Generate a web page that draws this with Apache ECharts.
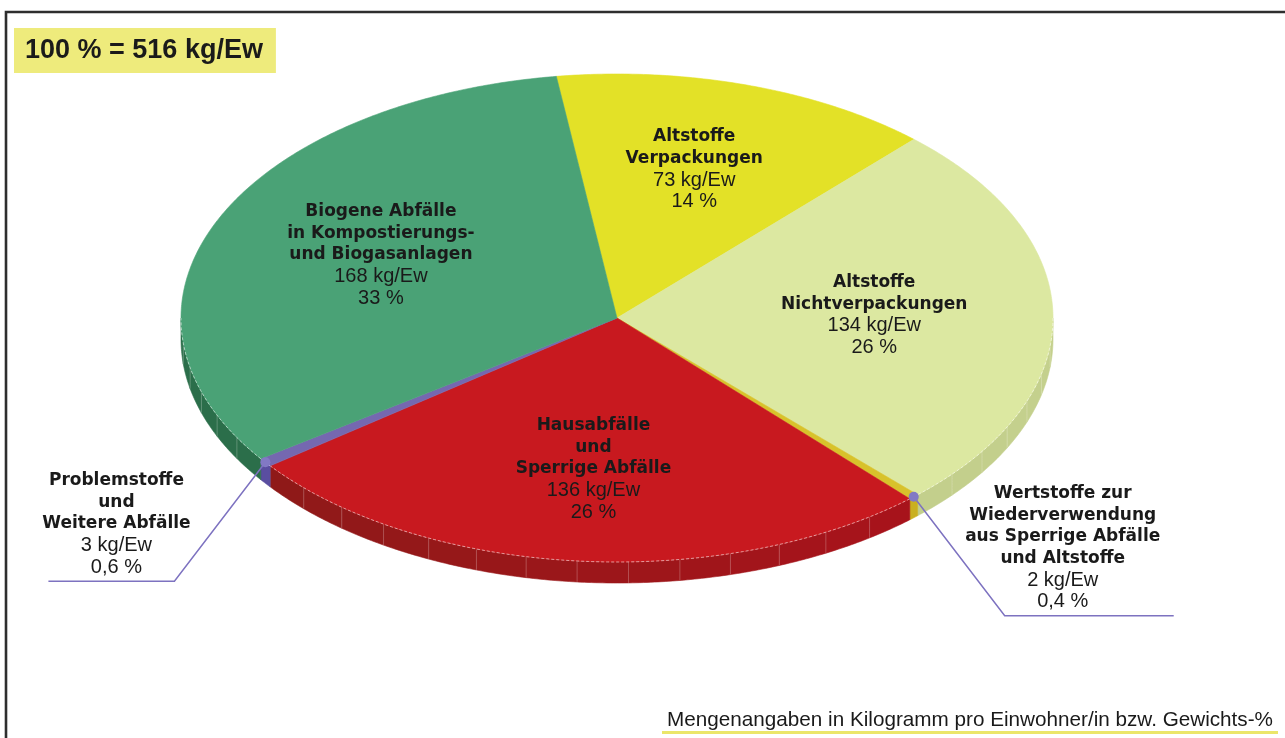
<!DOCTYPE html>
<html>
<head>
<meta charset="utf-8">
<script src="https://cdn.jsdelivr.net/npm/echarts@6/dist/echarts.min.js"></script>
<style>
  html, body { margin: 0; padding: 0; background: #fff; }
  #main { width: 1285px; height: 738px; }
</style>
</head>
<body>
<div id="main"></div>
<script>
// data, clockwise from the top
var categories = [
  'Altstoffe\nVerpackungen',
  'Altstoffe\nNichtverpackungen',
  'Wertstoffe zur\nWiederverwendung\naus Sperrige Abfälle\nund Altstoffe',
  'Hausabfälle\nund\nSperrige Abfälle',
  'Problemstoffe\nund\nWeitere Abfälle',
  'Biogene Abfälle\nin Kompostierungs-\nund Biogasanlagen'
];
var amountsKg = [73, 134, 2, 136, 3, 168];
var shareLabels = ['14 %', '26 %', '0,4 %', '26 %', '0,6 %', '33 %'];
var unit = 'kg/Ew';
var footNote = 'Mengenangaben in Kilogramm pro Einwohner/in bzw. Gewichts-%';

// look
var topColors = ['#e3e127', '#dce8a1', '#d8c22b', '#c8191f', '#7568b0', '#4aa276'];
var sideColors = [
  ['#b5b31c', '#b5b31c'],
  ['#bcc884', '#c4d08d'],
  ['#c9b020', '#c9b020'],
  ['#8b1a18', '#ae121c'],
  ['#5a4ea0', '#5a4ea0'],
  ['#2b6e4a', '#2b6e4a']
];
var CX = 617, CY = 318, RX = 436, RY = 244, DEPTH = 21, START_ANGLE = 98;
var INNER = 0.59, INNER_Y = 0.63;

window.onload = function () {
  var chartDom = document.getElementById('main');
  var myChart = echarts.init(chartDom);

  var total = amountsKg.reduce(function (a, b) { return a + b; }, 0);
  var acc = 0;
  var pieData = amountsKg.map(function (v, i) {
    var item = { name: categories[i], value: [v, acc] };
    acc += v;
    return item;
  });

  function pt(deg, drop) {
    var r = deg * Math.PI / 180;
    return [CX + RX * Math.cos(r), CY - RY * Math.sin(r) + (drop || 0)];
  }
  function arc(s, e, drop) {
    var out = [];
    var n = Math.max(2, Math.ceil((s - e) / 0.5));
    for (var k = 0; k <= n; k++) out.push(pt(s - (s - e) * k / n, drop));
    return out;
  }
  function angles(api) {
    var v = api.value(0), before = api.value(1);
    var s = START_ANGLE - before / total * 360;
    return { start: s, end: s - v / total * 360 };
  }
  // part of the slice that lies on the front (lower) half
  function frontPart(a) {
    var hi = Math.min(a.start, 0), lo = Math.max(a.end, -180);
    return hi > lo ? [hi, lo] : null;
  }
  function mix(c1, c2, t) {
    var p = function (c, k) { return parseInt(c.substr(1 + 2 * k, 2), 16); };
    var o = '#';
    for (var k = 0; k < 3; k++) {
      var x = Math.round(p(c1, k) + (p(c2, k) - p(c1, k)) * t);
      o += (x < 16 ? '0' : '') + x.toString(16);
    }
    return o;
  }

  function renderSide(params, api) {
    var i = params.dataIndex;
    var part = frontPart(angles(api));
    if (!part) return { type: 'group', children: [] };
    var children = [];
    var n = Math.max(1, Math.ceil((part[0] - part[1]) / 7));
    for (var k = 0; k < n; k++) {
      var s = part[0] - (part[0] - part[1]) * k / n;
      var e = part[0] - (part[0] - part[1]) * (k + 1) / n;
      var mid = (s + e) / 2 * Math.PI / 180;
      var t = (Math.cos(mid) + 1) / 2;
      var color = mix(sideColors[i][0], sideColors[i][1], t);
      children.push({
        type: 'polygon', shape: { points: arc(s, e, 0).concat(arc(s, e, DEPTH).reverse()) },
        style: { fill: color, stroke: color, lineWidth: 0.6 }
      });
      if (k > 0) {
        var a = pt(s, 0), b = pt(s, DEPTH);
        children.push({
          type: 'line', shape: { x1: a[0], y1: a[1], x2: b[0], y2: b[1] },
          style: { stroke: 'rgba(255,255,255,0.22)', lineWidth: 1 }
        });
      }
    }
    return { type: 'group', children: children };
  }

  function renderTop(params, api) {
    var i = params.dataIndex;
    var a = angles(api);
    var children = [{
      type: 'polygon', shape: { points: [[CX, CY]].concat(arc(a.start, a.end, 0)) },
      style: { fill: topColors[i], stroke: topColors[i], lineWidth: 0.6 }
    }];
    var part = frontPart(a);
    if (part) {
      children.push({
        type: 'polyline', shape: { points: arc(part[0], part[1], 0) },
        style: { fill: null, stroke: 'rgba(255,255,255,0.55)', lineWidth: 1, lineDash: [3, 2] }
      });
    }
    return { type: 'group', children: children };
  }

  var rich = {
    b: { fontFamily: 'DejaVu Sans', fontWeight: 'bold', fontSize: 17, lineHeight: 21.7, fill: '#1a1a1a' },
    n: { fontFamily: 'Liberation Sans', fontSize: 20, lineHeight: 21.7, fill: '#1a1a1a' }
  };
  function labelText(i, v) {
    var lines = categories[i].split('\n').map(function (l) { return '{b|' + l + '}'; });
    lines.push('{n|' + v + ' ' + unit + '}');
    lines.push('{n|' + shareLabels[i] + '}');
    return lines.join('\n');
  }

  function renderLabel(params, api) {
    var i = params.dataIndex;
    var v = api.value(0);
    var a = angles(api);
    var mid = (a.start + a.end) / 2;
    var r = mid * Math.PI / 180;
    var text = labelText(i, v);
    if (v / total > 0.02) {
      return {
        type: 'text',
        style: {
          text: text, rich: rich, align: 'center', verticalAlign: 'middle',
          x: CX + RX * INNER * Math.cos(r), y: CY - RY * INNER_Y * Math.sin(r) - 2
        }
      };
    }
    // small slices: leader line out of the rim
    var dir = Math.cos(r) < 0 ? -1 : 1;
    var dot = pt(mid, 0);
    var elbow = [dot[0] + dir * 91, dot[1] + 119];
    var end = [elbow[0] + dir * (dir < 0 ? 126 : 169), elbow[1]];
    return {
      type: 'group',
      children: [
        { type: 'polyline', shape: { points: [dot, elbow, end] },
          style: { fill: null, stroke: '#7d72c0', lineWidth: 1.5 } },
        { type: 'circle', shape: { cx: dot[0], cy: dot[1], r: 5 },
          style: { fill: '#8279c4' } },
        { type: 'text',
          style: { text: text, rich: rich, align: 'center', verticalAlign: 'bottom',
                   x: elbow[0] + dir * 58, y: elbow[1] - 3 } }
      ]
    };
  }

  var option = {
    animation: false,
    title: {
      text: '100 % = ' + total + ' ' + unit,
      left: 14,
      top: 28,
      padding: [9, 13, 9, 11],
      backgroundColor: '#eeeb7c',
      textStyle: { fontFamily: 'Liberation Sans', fontWeight: 'bold', fontSize: 27, color: '#1a1a1a', lineHeight: 27 }
    },
    graphic: [
      { type: 'rect', silent: true, shape: { x: 6, y: 12, width: 1300, height: 760 },
        style: { fill: null, stroke: '#2e2e2e', lineWidth: 2.6 } },
      { type: 'rect', silent: true, shape: { x: 662, y: 731, width: 616, height: 3 },
        style: { fill: '#ebe66a' } },
      { type: 'text', silent: true,
        style: { text: footNote, x: 667, y: 720, align: 'left', verticalAlign: 'middle',
                 font: '20.7px "Liberation Sans"', fill: '#1a1a1a' } }
    ],
    series: [
      { type: 'custom', coordinateSystem: 'none', silent: true, z: 1, data: pieData, renderItem: renderSide },
      { type: 'custom', coordinateSystem: 'none', silent: true, z: 2, data: pieData, renderItem: renderTop },
      { type: 'custom', coordinateSystem: 'none', silent: true, z: 3, data: pieData, renderItem: renderLabel }
    ]
  };

  option && myChart.setOption(option);
};
</script>
</body>
</html>
